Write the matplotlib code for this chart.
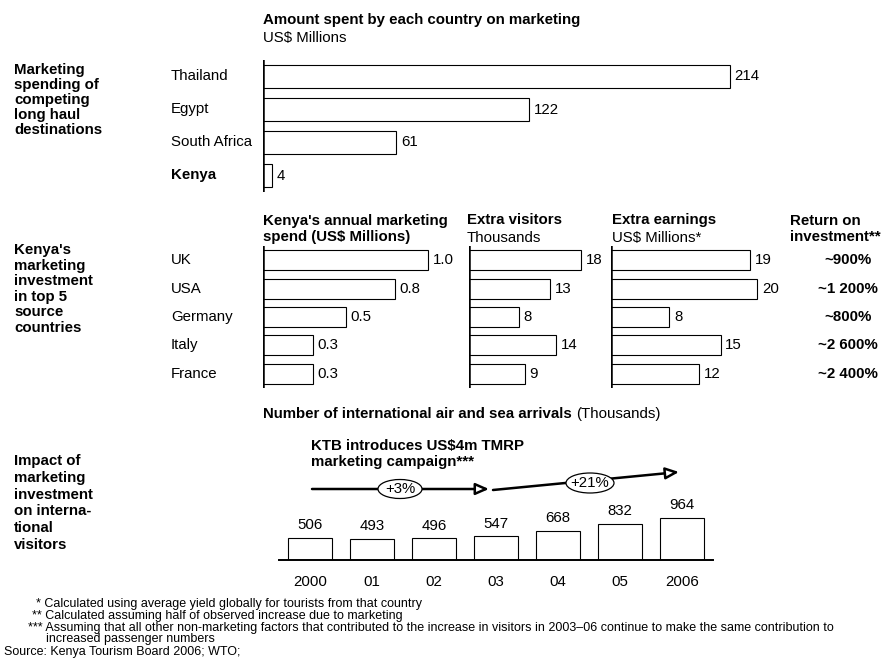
import matplotlib.pyplot as plt
from matplotlib.patches import Ellipse, FancyArrowPatch
from matplotlib.transforms import blended_transform_factory

plt.rcParams["font.family"] = ["Liberation Sans", "DejaVu Sans"]

W, H = 881, 662
FS = 10.8

# -------------------------------
# Data
# -------------------------------
destinations = ["Thailand", "Egypt", "South Africa", "Kenya"]
destination_spend = [214, 122, 61, 4]

source_countries = ["UK", "USA", "Germany", "Italy", "France"]
kenya_spend = [1.0, 0.8, 0.5, 0.3, 0.3]
extra_visitors = [18, 13, 8, 14, 9]
extra_earnings = [19, 20, 8, 15, 12]
roi_labels = ["~900%", "~1 200%", "~800%", "~2 600%", "~2 400%"]

years = ["2000", "01", "02", "03", "04", "05", "2006"]
arrivals = [506, 493, 496, 547, 668, 832, 964]

footnotes = [
    "* Calculated using average yield globally for tourists from that country",
    "** Calculated assuming half of observed increase due to marketing",
    "*** Assuming that all other non-marketing factors that contributed to the "
    "increase in visitors in 2003\u201306 continue to make the same contribution to",
    "increased passenger numbers",
]
source_note = "Source: Kenya Tourism Board 2006; WTO;"


def fx(x):
    return x / W


def fy(y):
    return 1 - y / H


def px_axes(x0, y0, x1, y1):
    return fig.add_axes([fx(x0), fy(y1), (x1 - x0) / W, (y1 - y0) / H])


def hbar_panel(x0, y0, y1, values, px_per_unit, fmt, width_px=300):
    ax = px_axes(x0, y0, x0 + width_px, y1)
    n = len(values)
    ax.barh(range(n), values, height=0.7, color="white",
            edgecolor="black", linewidth=0.8)
    ax.set_xlim(0, width_px / px_per_unit)
    ax.set_ylim(n - 0.5, -0.5)
    ax.axis("off")
    ax.axvline(0, color="black", linewidth=1.8)
    for i, v in enumerate(values):
        ax.annotate(fmt.format(v), (v, i), xytext=(3.5, 0),
                    textcoords="offset points", va="center", ha="left",
                    fontsize=FS)
    return ax


fig = plt.figure(figsize=(W / 100, H / 100), dpi=100)

# -------------------------------
# Section 1: competing destinations
# -------------------------------
fig.text(fx(263), fy(20), "Amount spent by each country on marketing",
         fontsize=FS, fontweight="bold", va="center")
fig.text(fx(263), fy(38), "US$ Millions", fontsize=FS, va="center")

ax1 = hbar_panel(263, 60, 192, destination_spend, 2.18, "{:d}", width_px=560)
tr1 = blended_transform_factory(fig.transFigure, ax1.transData)
for i, name in enumerate(destinations):
    ax1.text(fx(171), i, name, transform=tr1, va="center", fontsize=FS,
             fontweight="bold" if name == "Kenya" else "normal")

fig.text(fx(14), fy(100),
         "Marketing\nspending of\ncompeting\nlong haul\ndestinations",
         fontsize=FS, fontweight="bold", va="center", linespacing=1.09)

# -------------------------------
# Section 2: Kenya's source countries
# -------------------------------
fig.text(fx(263), fy(229), "Kenya's annual marketing\nspend (US$ Millions)",
         fontsize=FS, fontweight="bold", va="center", linespacing=1.1)
fig.text(fx(467), fy(220), "Extra visitors", fontsize=FS,
         fontweight="bold", va="center")
fig.text(fx(467), fy(238), "Thousands", fontsize=FS, va="center")
fig.text(fx(612), fy(220), "Extra earnings", fontsize=FS,
         fontweight="bold", va="center")
fig.text(fx(612), fy(238), "US$ Millions*", fontsize=FS, va="center")
fig.text(fx(790), fy(229), "Return on\ninvestment**", fontsize=FS,
         fontweight="bold", va="center", linespacing=1.1)

ax2 = hbar_panel(263, 246, 388, kenya_spend, 165, "{:.1f}", width_px=190)
hbar_panel(469, 246, 388, extra_visitors, 6.2, "{:d}", width_px=135)
hbar_panel(611, 246, 388, extra_earnings, 7.3, "{:d}", width_px=170)

tr2 = blended_transform_factory(fig.transFigure, ax2.transData)
for i, name in enumerate(source_countries):
    ax2.text(fx(171), i, name, transform=tr2, va="center", fontsize=FS)
    ax2.text(fx(848), i, roi_labels[i], transform=tr2, va="center",
             ha="center", fontsize=FS, fontweight="bold")

fig.text(fx(14), fy(289),
         "Kenya's\nmarketing\ninvestment\nin top 5\nsource\ncountries",
         fontsize=FS, fontweight="bold", va="center", linespacing=1.13)

# -------------------------------
# Section 3: arrivals
# -------------------------------
head = fig.text(fx(263), fy(414),
                "Number of international air and sea arrivals ",
                fontsize=FS, fontweight="bold", va="center")
fig.canvas.draw()
head_right = head.get_window_extent().x1 / W
fig.text(head_right, fy(414), "(Thousands)", fontsize=FS, va="center")

fig.text(fx(311), fy(454), "KTB introduces US$4m TMRP\nmarketing campaign***",
         fontsize=FS, fontweight="bold", va="center", linespacing=1.1)

ax3 = px_axes(279, 490, 713, 560)
ax3.bar(range(len(years)), arrivals, width=0.71, color="white",
        edgecolor="black", linewidth=0.8)
ax3.set_xlim(-0.5, len(years) - 0.5)
ax3.set_ylim(0, 70 / 0.0436)
for side in ["left", "right", "top"]:
    ax3.spines[side].set_visible(False)
ax3.spines["bottom"].set_linewidth(1.4)
ax3.set_yticks([])
ax3.set_xticks(range(len(years)))
ax3.set_xticklabels(years, fontsize=FS)
ax3.tick_params(axis="x", length=0, pad=11)
for i, v in enumerate(arrivals):
    ax3.annotate(str(v), (i, v), xytext=(0, 4), textcoords="offset points",
                 ha="center", va="bottom", fontsize=FS)

# growth arrows with percentage ovals
arrow_kw = dict(arrowstyle="-|>,head_length=0.8,head_width=0.35",
                mutation_scale=10, edgecolor="black", facecolor="white",
                linewidth=1.8, shrinkA=0, shrinkB=0,
                transform=fig.transFigure)
fig.add_artist(FancyArrowPatch((fx(312), fy(489)), (fx(489), fy(489)),
                               **arrow_kw))
fig.add_artist(FancyArrowPatch((fx(493), fy(490)), (fx(679), fy(472)),
                               **arrow_kw))

for cx, cy, w, h, label in [(400, 489, 44, 19, "+3%"),
                            (590, 483, 48, 20, "+21%")]:
    fig.add_artist(Ellipse((fx(cx), fy(cy)), w / W, h / H,
                           transform=fig.transFigure, facecolor="white",
                           edgecolor="black", linewidth=0.9, zorder=5))
    fig.text(fx(cx), fy(cy), label, ha="center", va="center",
             fontsize=FS, zorder=6)

fig.text(fx(14), fy(503),
         "Impact of\nmarketing\ninvestment\non interna-\ntional\nvisitors",
         fontsize=FS, fontweight="bold", va="center", linespacing=1.26)

# -------------------------------
# Footnotes
# -------------------------------
note_y = [604, 616, 628, 639]
note_x = [36, 32, 28, 46]
for x, y, line in zip(note_x, note_y, footnotes):
    fig.text(fx(x), fy(y), line, fontsize=9.0, va="center")
fig.text(fx(4), fy(652), source_note, fontsize=9.0, va="center")

fig.savefig("out.png", dpi=100)
